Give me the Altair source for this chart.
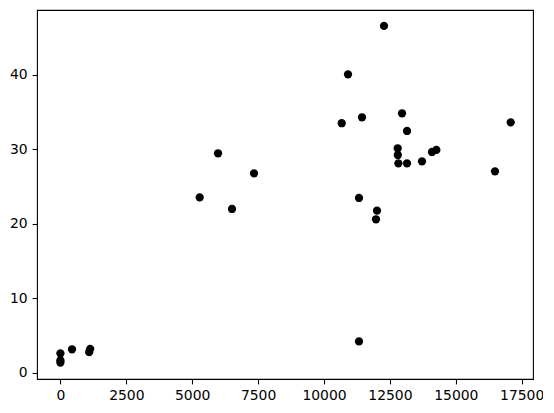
import altair as alt
import pandas as pd

x_vals = [0, 0, 0, 440, 1090, 1130,
          5284, 5980, 6510, 7345,
          10672, 10911, 11328, 11328, 11442, 11973, 12011, 12276,
          12796, 12800, 12822, 12960, 13150, 13150, 13718, 14097, 14264,
          16487, 17083]
y_vals = [2.6, 1.65, 1.35, 3.14, 2.75, 3.2,
          23.54, 29.45, 21.97, 26.76,
          33.48, 40.05, 23.45, 4.2, 34.28, 20.59, 21.75, 46.54,
          30.12, 29.22, 28.1, 34.82, 32.44, 28.1, 28.37, 29.62, 29.9,
          27.03, 33.6]

x_ticks = [0, 2500, 5000, 7500, 10000, 12500, 15000, 17500]
y_ticks = [0, 10, 20, 30, 40]

df = pd.DataFrame({"x": x_vals, "y": y_vals})

axis_common = dict(
    grid=False, domain=False, tickColor="black", tickWidth=1.1, tickSize=4.9,
    labelFont="DejaVu Sans", labelFontSize=13.9, labelColor="black",
    labelPadding=4.9, title=None,
)

chart = alt.Chart(df).mark_circle(size=68, color="black", opacity=1).encode(
    x=alt.X("x:Q", scale=alt.Scale(domain=[-888, 17929], nice=False, zero=False),
            axis=alt.Axis(values=x_ticks, format="d", **axis_common)),
    y=alt.Y("y:Q", scale=alt.Scale(domain=[-0.85, 48.68], nice=False, zero=False),
            axis=alt.Axis(values=y_ticks, format="d", **axis_common)),
).properties(
    width=496, height=369,
    autosize=alt.AutoSizeParams(type="none"),
    padding={"left": 29, "top": 2, "right": 10, "bottom": 30},
).configure(
    background="white",
    view=alt.ViewConfig(stroke="black", strokeWidth=1.1),
)

chart.save("out.html", embed_options={"renderer": "svg", "actions": False})
